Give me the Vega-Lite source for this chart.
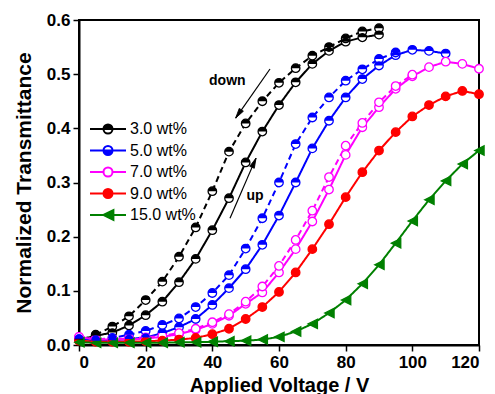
{
  "$schema": "https://vega.github.io/schema/vega-lite/v6.json",
  "width": 400,
  "height": 325,
  "autosize": {"type": "none"},
  "padding": {"left": 79, "top": 20, "right": 16, "bottom": 49},
  "background": "white",
  "config": {
    "view": {"stroke": "black", "strokeWidth": 2},
    "axis": {
      "domainColor": "black", "domainWidth": 2, "tickColor": "black", "tickWidth": 1.5,
      "labelFont": "Liberation Sans", "labelFontWeight": "bold", "labelFontSize": 17, "labelColor": "black",
      "titleFont": "Liberation Sans", "titleFontWeight": "bold", "titleFontSize": 20, "titleColor": "black",
      "grid": false, "labelOverlap": false
    },
    "legend": {
      "orient": "none", "legendX": 21, "legendY": 101, "title": null, "padding": 0,
      "labelFont": "Liberation Sans", "labelFontSize": 16, "labelColor": "black", "labelFontWeight": "normal",
      "symbolSize": 81, "symbolStrokeWidth": 2, "symbolOpacity": 1, "labelOffset": 14, "rowPadding": 3.5
    }
  },
  "datasets": {
    "main": [
      {"s":"3.0 wt%","d":"up","v":0,"t":0.010},{"s":"3.0 wt%","d":"up","v":5,"t":0.017},{"s":"3.0 wt%","d":"up","v":10,"t":0.023},{"s":"3.0 wt%","d":"up","v":15,"t":0.036},{"s":"3.0 wt%","d":"up","v":20,"t":0.055},{"s":"3.0 wt%","d":"up","v":25,"t":0.080},{"s":"3.0 wt%","d":"up","v":30,"t":0.116},{"s":"3.0 wt%","d":"up","v":35,"t":0.159},{"s":"3.0 wt%","d":"up","v":40,"t":0.212},{"s":"3.0 wt%","d":"up","v":45,"t":0.271},{"s":"3.0 wt%","d":"up","v":50,"t":0.337},{"s":"3.0 wt%","d":"up","v":55,"t":0.394},{"s":"3.0 wt%","d":"up","v":60,"t":0.443},{"s":"3.0 wt%","d":"up","v":65,"t":0.485},{"s":"3.0 wt%","d":"up","v":70,"t":0.519},{"s":"3.0 wt%","d":"up","v":75,"t":0.543},{"s":"3.0 wt%","d":"up","v":80,"t":0.560},{"s":"3.0 wt%","d":"up","v":85,"t":0.568},{"s":"3.0 wt%","d":"up","v":90,"t":0.573},
      {"s":"3.0 wt%","d":"down","v":5,"t":0.019},{"s":"3.0 wt%","d":"down","v":10,"t":0.034},{"s":"3.0 wt%","d":"down","v":15,"t":0.053},{"s":"3.0 wt%","d":"down","v":20,"t":0.083},{"s":"3.0 wt%","d":"down","v":25,"t":0.117},{"s":"3.0 wt%","d":"down","v":30,"t":0.163},{"s":"3.0 wt%","d":"down","v":35,"t":0.217},{"s":"3.0 wt%","d":"down","v":40,"t":0.284},{"s":"3.0 wt%","d":"down","v":45,"t":0.357},{"s":"3.0 wt%","d":"down","v":50,"t":0.409},{"s":"3.0 wt%","d":"down","v":55,"t":0.450},{"s":"3.0 wt%","d":"down","v":60,"t":0.484},{"s":"3.0 wt%","d":"down","v":65,"t":0.511},{"s":"3.0 wt%","d":"down","v":70,"t":0.534},{"s":"3.0 wt%","d":"down","v":75,"t":0.550},{"s":"3.0 wt%","d":"down","v":80,"t":0.566},{"s":"3.0 wt%","d":"down","v":85,"t":0.579},{"s":"3.0 wt%","d":"down","v":90,"t":0.585},
      {"s":"5.0 wt%","d":"up","v":0,"t":0.012},{"s":"5.0 wt%","d":"up","v":5,"t":0.008},{"s":"5.0 wt%","d":"up","v":10,"t":0.009},{"s":"5.0 wt%","d":"up","v":15,"t":0.011},{"s":"5.0 wt%","d":"up","v":20,"t":0.014},{"s":"5.0 wt%","d":"up","v":25,"t":0.022},{"s":"5.0 wt%","d":"up","v":30,"t":0.033},{"s":"5.0 wt%","d":"up","v":35,"t":0.048},{"s":"5.0 wt%","d":"up","v":40,"t":0.074},{"s":"5.0 wt%","d":"up","v":45,"t":0.105},{"s":"5.0 wt%","d":"up","v":50,"t":0.140},{"s":"5.0 wt%","d":"up","v":55,"t":0.185},{"s":"5.0 wt%","d":"up","v":60,"t":0.239},{"s":"5.0 wt%","d":"up","v":65,"t":0.300},{"s":"5.0 wt%","d":"up","v":70,"t":0.363},{"s":"5.0 wt%","d":"up","v":75,"t":0.414},{"s":"5.0 wt%","d":"up","v":80,"t":0.457},{"s":"5.0 wt%","d":"up","v":85,"t":0.491},{"s":"5.0 wt%","d":"up","v":90,"t":0.516},{"s":"5.0 wt%","d":"up","v":95,"t":0.535},{"s":"5.0 wt%","d":"up","v":100,"t":0.545},{"s":"5.0 wt%","d":"up","v":105,"t":0.543},{"s":"5.0 wt%","d":"up","v":110,"t":0.538},
      {"s":"5.0 wt%","d":"down","v":0,"t":0.012},{"s":"5.0 wt%","d":"down","v":5,"t":0.010},{"s":"5.0 wt%","d":"down","v":10,"t":0.013},{"s":"5.0 wt%","d":"down","v":15,"t":0.019},{"s":"5.0 wt%","d":"down","v":20,"t":0.026},{"s":"5.0 wt%","d":"down","v":25,"t":0.037},{"s":"5.0 wt%","d":"down","v":30,"t":0.049},{"s":"5.0 wt%","d":"down","v":35,"t":0.070},{"s":"5.0 wt%","d":"down","v":40,"t":0.096},{"s":"5.0 wt%","d":"down","v":45,"t":0.129},{"s":"5.0 wt%","d":"down","v":50,"t":0.178},{"s":"5.0 wt%","d":"down","v":55,"t":0.234},{"s":"5.0 wt%","d":"down","v":60,"t":0.300},{"s":"5.0 wt%","d":"down","v":65,"t":0.371},{"s":"5.0 wt%","d":"down","v":70,"t":0.420},{"s":"5.0 wt%","d":"down","v":75,"t":0.457},{"s":"5.0 wt%","d":"down","v":80,"t":0.488},{"s":"5.0 wt%","d":"down","v":85,"t":0.509},{"s":"5.0 wt%","d":"down","v":90,"t":0.528},{"s":"5.0 wt%","d":"down","v":95,"t":0.540},
      {"s":"7.0 wt%","d":"up","v":0,"t":0.015},{"s":"7.0 wt%","d":"up","v":5,"t":0.010},{"s":"7.0 wt%","d":"up","v":10,"t":0.010},{"s":"7.0 wt%","d":"up","v":15,"t":0.010},{"s":"7.0 wt%","d":"up","v":20,"t":0.012},{"s":"7.0 wt%","d":"up","v":25,"t":0.015},{"s":"7.0 wt%","d":"up","v":30,"t":0.020},{"s":"7.0 wt%","d":"up","v":35,"t":0.028},{"s":"7.0 wt%","d":"up","v":40,"t":0.039},{"s":"7.0 wt%","d":"up","v":45,"t":0.054},{"s":"7.0 wt%","d":"up","v":50,"t":0.076},{"s":"7.0 wt%","d":"up","v":55,"t":0.097},{"s":"7.0 wt%","d":"up","v":60,"t":0.134},{"s":"7.0 wt%","d":"up","v":65,"t":0.177},{"s":"7.0 wt%","d":"up","v":70,"t":0.228},{"s":"7.0 wt%","d":"up","v":75,"t":0.287},{"s":"7.0 wt%","d":"up","v":80,"t":0.351},{"s":"7.0 wt%","d":"up","v":85,"t":0.402},{"s":"7.0 wt%","d":"up","v":90,"t":0.439},{"s":"7.0 wt%","d":"up","v":95,"t":0.473},{"s":"7.0 wt%","d":"up","v":100,"t":0.496},{"s":"7.0 wt%","d":"up","v":105,"t":0.513},{"s":"7.0 wt%","d":"up","v":110,"t":0.523},{"s":"7.0 wt%","d":"up","v":115,"t":0.519},{"s":"7.0 wt%","d":"up","v":120,"t":0.510},
      {"s":"7.0 wt%","d":"down","v":0,"t":0.015},{"s":"7.0 wt%","d":"down","v":5,"t":0.011},{"s":"7.0 wt%","d":"down","v":10,"t":0.011},{"s":"7.0 wt%","d":"down","v":15,"t":0.012},{"s":"7.0 wt%","d":"down","v":20,"t":0.014},{"s":"7.0 wt%","d":"down","v":25,"t":0.017},{"s":"7.0 wt%","d":"down","v":30,"t":0.022},{"s":"7.0 wt%","d":"down","v":35,"t":0.030},{"s":"7.0 wt%","d":"down","v":40,"t":0.042},{"s":"7.0 wt%","d":"down","v":45,"t":0.057},{"s":"7.0 wt%","d":"down","v":50,"t":0.080},{"s":"7.0 wt%","d":"down","v":55,"t":0.108},{"s":"7.0 wt%","d":"down","v":60,"t":0.146},{"s":"7.0 wt%","d":"down","v":65,"t":0.194},{"s":"7.0 wt%","d":"down","v":70,"t":0.248},{"s":"7.0 wt%","d":"down","v":75,"t":0.310},{"s":"7.0 wt%","d":"down","v":80,"t":0.368},{"s":"7.0 wt%","d":"down","v":85,"t":0.410},{"s":"7.0 wt%","d":"down","v":90,"t":0.448},{"s":"7.0 wt%","d":"down","v":95,"t":0.478},{"s":"7.0 wt%","d":"down","v":100,"t":0.499},
      {"s":"9.0 wt%","d":"up","v":0,"t":0.008},{"s":"9.0 wt%","d":"up","v":5,"t":0.006},{"s":"9.0 wt%","d":"up","v":10,"t":0.006},{"s":"9.0 wt%","d":"up","v":15,"t":0.006},{"s":"9.0 wt%","d":"up","v":20,"t":0.007},{"s":"9.0 wt%","d":"up","v":25,"t":0.008},{"s":"9.0 wt%","d":"up","v":30,"t":0.010},{"s":"9.0 wt%","d":"up","v":35,"t":0.013},{"s":"9.0 wt%","d":"up","v":40,"t":0.020},{"s":"9.0 wt%","d":"up","v":45,"t":0.030},{"s":"9.0 wt%","d":"up","v":50,"t":0.048},{"s":"9.0 wt%","d":"up","v":55,"t":0.070},{"s":"9.0 wt%","d":"up","v":60,"t":0.098},{"s":"9.0 wt%","d":"up","v":65,"t":0.134},{"s":"9.0 wt%","d":"up","v":70,"t":0.177},{"s":"9.0 wt%","d":"up","v":75,"t":0.223},{"s":"9.0 wt%","d":"up","v":80,"t":0.273},{"s":"9.0 wt%","d":"up","v":85,"t":0.319},{"s":"9.0 wt%","d":"up","v":90,"t":0.359},{"s":"9.0 wt%","d":"up","v":95,"t":0.393},{"s":"9.0 wt%","d":"up","v":100,"t":0.422},{"s":"9.0 wt%","d":"up","v":105,"t":0.443},{"s":"9.0 wt%","d":"up","v":110,"t":0.459},{"s":"9.0 wt%","d":"up","v":115,"t":0.469},{"s":"9.0 wt%","d":"up","v":120,"t":0.463},
      {"s":"15.0 wt%","d":"up","v":0,"t":0.005},{"s":"15.0 wt%","d":"up","v":5,"t":0.004},{"s":"15.0 wt%","d":"up","v":10,"t":0.004},{"s":"15.0 wt%","d":"up","v":15,"t":0.004},{"s":"15.0 wt%","d":"up","v":20,"t":0.004},{"s":"15.0 wt%","d":"up","v":25,"t":0.004},{"s":"15.0 wt%","d":"up","v":30,"t":0.005},{"s":"15.0 wt%","d":"up","v":35,"t":0.005},{"s":"15.0 wt%","d":"up","v":40,"t":0.006},{"s":"15.0 wt%","d":"up","v":45,"t":0.007},{"s":"15.0 wt%","d":"up","v":50,"t":0.008},{"s":"15.0 wt%","d":"up","v":55,"t":0.010},{"s":"15.0 wt%","d":"up","v":60,"t":0.015},{"s":"15.0 wt%","d":"up","v":65,"t":0.025},{"s":"15.0 wt%","d":"up","v":70,"t":0.039},{"s":"15.0 wt%","d":"up","v":75,"t":0.059},{"s":"15.0 wt%","d":"up","v":80,"t":0.083},{"s":"15.0 wt%","d":"up","v":85,"t":0.113},{"s":"15.0 wt%","d":"up","v":90,"t":0.148},{"s":"15.0 wt%","d":"up","v":95,"t":0.188},{"s":"15.0 wt%","d":"up","v":100,"t":0.229},{"s":"15.0 wt%","d":"up","v":105,"t":0.268},{"s":"15.0 wt%","d":"up","v":110,"t":0.303},{"s":"15.0 wt%","d":"up","v":115,"t":0.334},{"s":"15.0 wt%","d":"up","v":120,"t":0.359}
    ],
    "labels": [
      {"label":"down","v":44.5,"t":0.488},
      {"label":"up","v":52.8,"t":0.276}
    ],
    "arrows": [
      {"name":"down","v":57.3,"t":0.5095,"v2":47.0,"t2":0.419},
      {"name":"up","v":45.3,"t":0.234,"v2":53.1,"t2":0.345}
    ]
  },
  "layer": [
    {
      "data": {"name": "main"},
      "mark": {"type": "line", "strokeWidth": 2},
      "encoding": {
        "x": {"field": "v", "type": "quantitative", "scale": {"domain": [0, 120], "nice": false},
          "axis": {"title": "Applied Voltage / V", "values": [0,10,20,30,40,50,60,70,80,90,100,110,120],
            "labelExpr": "datum.value % 20 === 0 ? datum.label : ''",
            "tickSize": {"condition": {"test": "datum.value % 20 === 0", "value": 6}, "value": 3},
            "labelPadding": 3, "titlePadding": 5}},
        "y": {"field": "t", "type": "quantitative", "scale": {"domain": [0, 0.6], "nice": false},
          "axis": {"title": "Normalized Transmittance", "titleFontSize": 21, "values": [0,0.05,0.1,0.15,0.2,0.25,0.3,0.35,0.4,0.45,0.5,0.55,0.6],
            "labelExpr": "round(datum.value*100) % 10 === 0 ? format(datum.value, '.1f') : ''",
            "tickSize": {"condition": {"test": "round(datum.value*100) % 10 === 0", "value": 6}, "value": 3},
            "labelPadding": 3, "titlePadding": 12}},
        "stroke": {"field": "s", "type": "nominal",
          "scale": {"domain": ["3.0 wt%","5.0 wt%","7.0 wt%","9.0 wt%","15.0 wt%"], "range": ["#000000","#0000ff","#ff00ff","#ff0000","#008000"]}},
        "strokeDash": {"field": "d", "type": "nominal", "scale": {"domain": ["up","down"], "range": [[1,0],[6,4]]}, "legend": null},
        "order": {"field": "v", "type": "quantitative"}
      }
    },
    {
      "data": {"name": "main"},
      "transform": [{"filter": "datum.v === 0 && datum.d === 'up'"}],
      "mark": {"type": "point", "filled": true, "opacity": 0, "strokeWidth": 2},
      "encoding": {
        "x": {"field": "v", "type": "quantitative"},
        "y": {"field": "t", "type": "quantitative"},
        "stroke": {"field": "s", "type": "nominal"},
        "fill": {"field": "s", "type": "nominal",
          "scale": {"domain": ["3.0 wt%","5.0 wt%","7.0 wt%","9.0 wt%","15.0 wt%"], "range": ["#000000","#0000ff","#ffffff","#ff0000","#008000"]}},
        "shape": {"field": "s", "type": "nominal",
          "scale": {"domain": ["3.0 wt%","5.0 wt%","7.0 wt%","9.0 wt%","15.0 wt%"], "range": [
            "M -4 0 L -1 0 M 1 0 L 4 0 M -1 0 A 1 1 0 0 1 1 0 Z M 1 0 A 1 1 0 0 1 -1 0 A 1 1 0 0 0 1 0",
            "M -4 0 L -1 0 M 1 0 L 4 0 M 1 0 A 1 1 0 0 1 -1 0 Z M -1 0 A 1 1 0 0 1 1 0 A 1 1 0 0 0 -1 0",
            "M -4 0 L -1 0 M 1 0 L 4 0 M -1 0 A 1 1 0 1 1 1 0 A 1 1 0 1 1 -1 0 Z",
            "M -4 0 L -1 0 M 1 0 L 4 0 M -1 0 A 1 1 0 1 1 1 0 A 1 1 0 1 1 -1 0 Z",
            "M -4 0 L 4 0 M -1 0 L 1.2 -1.1 L 1.2 1.1 Z"]}}
      }
    },
    {
      "data": {"name": "main"},
      "transform": [{"filter": "datum.s !== '15.0 wt%'"}],
      "mark": {"type": "point", "filled": true, "size": 72, "strokeWidth": 1.3, "opacity": 1, "shape": "circle"},
      "encoding": {
        "x": {"field": "v", "type": "quantitative"},
        "y": {"field": "t", "type": "quantitative"},
        "stroke": {"field": "s", "type": "nominal"},
        "color": {"field": "s", "type": "nominal",
          "scale": {"domain": ["3.0 wt%","5.0 wt%","7.0 wt%","9.0 wt%"], "range": ["#ffffff","#ffffff","#ffffff","#ff0000"]},
          "legend": null}
      }
    },
    {
      "data": {"name": "main"},
      "transform": [{"filter": "datum.s === '15.0 wt%'"}],
      "mark": {"type": "point", "filled": true, "size": 72, "strokeWidth": 1.3, "opacity": 1, "fill": "#008000", "shape": "M -1 0 L 1.2 -1.1 L 1.2 1.1 Z"},
      "encoding": {
        "x": {"field": "v", "type": "quantitative"},
        "y": {"field": "t", "type": "quantitative"},
        "stroke": {"field": "s", "type": "nominal"}
      }
    },
    {
      "data": {"name": "main"},
      "transform": [{"filter": "datum.s === '3.0 wt%'"}],
      "mark": {"type": "point", "filled": true, "size": 72, "opacity": 1, "fill": "#000000", "shape": "M -1 0 A 1 1 0 0 1 1 0 Z"},
      "encoding": {
        "x": {"field": "v", "type": "quantitative"},
        "y": {"field": "t", "type": "quantitative"}
      }
    },
    {
      "data": {"name": "main"},
      "transform": [{"filter": "datum.s === '5.0 wt%'"}],
      "mark": {"type": "point", "filled": true, "size": 72, "opacity": 1, "fill": "#0000ff", "shape": "M -1 0 A 1 1 0 0 1 1 0 Z"},
      "encoding": {
        "x": {"field": "v", "type": "quantitative"},
        "y": {"field": "t", "type": "quantitative"}
      }
    },
    {
      "data": {"name": "labels"},
      "mark": {"type": "text", "font": "Liberation Sans", "fontWeight": "bold", "fontSize": 14, "color": "black"},
      "encoding": {
        "x": {"field": "v", "type": "quantitative"},
        "y": {"field": "t", "type": "quantitative"},
        "text": {"field": "label"}
      }
    },
    {
      "data": {"name": "arrows"},
      "mark": {"type": "rule", "color": "black", "strokeWidth": 1.2},
      "encoding": {
        "x": {"field": "v", "type": "quantitative"},
        "y": {"field": "t", "type": "quantitative"},
        "x2": {"field": "v2"},
        "y2": {"field": "t2"}
      }
    },
    {
      "data": {"name": "arrows"},
      "transform": [{"filter": "datum.name === 'down'"}],
      "mark": {"type": "point", "filled": true, "fill": "black", "stroke": "black", "strokeWidth": 0.8, "opacity": 1, "size": 100, "angle": 214.4, "shape": "M 0 0 L -0.5 2 L 0.5 2 Z"},
      "encoding": {
        "x": {"field": "v2", "type": "quantitative"},
        "y": {"field": "t2", "type": "quantitative"}
      }
    },
    {
      "data": {"name": "arrows"},
      "transform": [{"filter": "datum.name === 'up'"}],
      "mark": {"type": "point", "filled": true, "fill": "black", "stroke": "black", "strokeWidth": 0.8, "opacity": 1, "size": 100, "angle": 23.5, "shape": "M 0 0 L -0.5 2 L 0.5 2 Z"},
      "encoding": {
        "x": {"field": "v2", "type": "quantitative"},
        "y": {"field": "t2", "type": "quantitative"}
      }
    }
  ]
}
